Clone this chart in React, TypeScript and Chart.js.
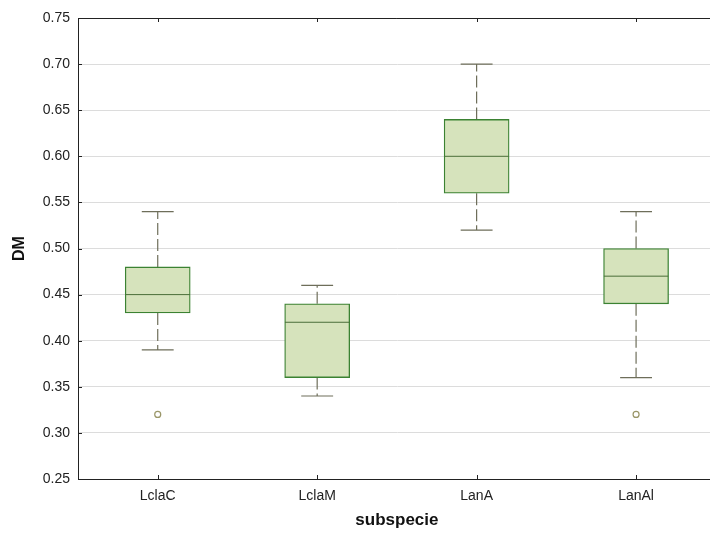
import React, { useEffect, useRef } from "react";
import { Chart, registerables } from "chart.js";

Chart.register(...registerables);

// ---- data ----
const categories = ["LclaC", "LclaM", "LanA", "LanAl"];
const whiskerMin = [0.39, 0.34, 0.52, 0.36];
const q1 = [0.43, 0.36, 0.56, 0.44];
const median = [0.45, 0.42, 0.6, 0.47];
const q3 = [0.48, 0.44, 0.64, 0.5];
const whiskerMax = [0.54, 0.46, 0.7, 0.54];
const outliers: number[][] = [[0.32], [], [], [0.32]];
const yTicks = [0.25, 0.3, 0.35, 0.4, 0.45, 0.5, 0.55, 0.6, 0.65, 0.7, 0.75];

// ---- layout / style constants ----
const BOX_HALF = 0.202; // in category units
const CAP_HALF = 0.1;
const X_MAX = 3.5;
const FONT = "'Liberation Sans', Arial, sans-serif";
const BOX_FILL = "rgb(214,227,188)";
const BOX_EDGE = "#3b8232";
const MEDIAN_COLOR = "#4a6e38";
const WHISKER_COLOR = "#6e6e5a";
const OUTLIER_COLOR = "#9a9668";

const framePlugin = {
  id: "frame",
  afterDraw(chart: any) {
    const { ctx, chartArea } = chart;
    const xs = chart.scales.x;
    const ys = chart.scales.y;
    ctx.save();
    ctx.strokeStyle = "#222";
    ctx.lineWidth = 1;
    ctx.beginPath();
    ctx.moveTo(chartArea.left, chartArea.top + 0.5);
    ctx.lineTo(chartArea.right, chartArea.top + 0.5);
    ctx.lineTo(chartArea.right, chartArea.bottom);
    yTicks.forEach((v) => {
      const py = Math.round(ys.getPixelForValue(v)) + 0.5;
      ctx.moveTo(chartArea.left, py);
      ctx.lineTo(chartArea.left + 4, py);
    });
    categories.forEach((_, i) => {
      const px = Math.round(xs.getPixelForValue(i)) + 0.5;
      ctx.moveTo(px, chartArea.top);
      ctx.lineTo(px, chartArea.top + 4);
      ctx.moveTo(px, chartArea.bottom);
      ctx.lineTo(px, chartArea.bottom - 4);
    });
    ctx.stroke();
    ctx.restore();
  },
};

export default function App() {
  const ref = useRef<HTMLCanvasElement>(null);

  useEffect(() => {
    if (!ref.current) return;

    const boxData = categories.map((_, i) => ({ x: i, y: [q1[i], q3[i]] }));
    const medianData: any[] = [];
    const whiskerData: any[] = [];
    const capData: any[] = [];
    const outlierData: any[] = [];
    categories.forEach((_, i) => {
      medianData.push({ x: i - BOX_HALF, y: median[i] }, { x: i + BOX_HALF, y: median[i] }, { x: i + 0.5, y: null });
      whiskerData.push(
        { x: i, y: q3[i] }, { x: i, y: whiskerMax[i] }, { x: i + 0.01, y: null },
        { x: i, y: q1[i] }, { x: i, y: whiskerMin[i] }, { x: i + 0.02, y: null }
      );
      capData.push(
        { x: i - CAP_HALF, y: whiskerMax[i] }, { x: i + CAP_HALF, y: whiskerMax[i] }, { x: i + 0.3, y: null },
        { x: i - CAP_HALF, y: whiskerMin[i] }, { x: i + CAP_HALF, y: whiskerMin[i] }, { x: i + 0.4, y: null }
      );
      outliers[i].forEach((v) => outlierData.push({ x: i, y: v }));
    });

    const chart = new Chart(ref.current, {
      type: "bar",
      data: {
        datasets: [
          {
            type: "line",
            data: medianData,
            borderColor: MEDIAN_COLOR,
            borderWidth: 1,
            pointRadius: 0,
            spanGaps: false,
            order: 0,
          } as any,
          {
            type: "bar",
            data: boxData as any,
            backgroundColor: BOX_FILL,
            borderColor: BOX_EDGE,
            borderWidth: 1.3,
            borderSkipped: false,
            barThickness: 65,
            order: 1,
          },
          {
            type: "line",
            data: whiskerData,
            borderColor: WHISKER_COLOR,
            borderWidth: 1.2,
            borderDash: [12, 4],
            pointRadius: 0,
            spanGaps: false,
            order: 2,
          } as any,
          {
            type: "line",
            data: capData,
            borderColor: WHISKER_COLOR,
            borderWidth: 1.2,
            pointRadius: 0,
            spanGaps: false,
            order: 2,
          } as any,
          {
            type: "line",
            data: outlierData,
            showLine: false,
            pointStyle: "circle",
            pointRadius: 3,
            pointBorderWidth: 1.2,
            pointBorderColor: OUTLIER_COLOR,
            pointBackgroundColor: "#ffffff",
            order: 0,
          } as any,
        ],
      },
      options: {
        animation: false,
        responsive: false,
        layout: { padding: { top: 18, left: 0, right: 0, bottom: 0 } },
        plugins: { legend: { display: false }, tooltip: { enabled: false } },
        scales: {
          x: {
            type: "linear",
            min: -0.5,
            max: X_MAX,
            offset: false,
            afterBuildTicks: (s: any) => {
              s.ticks = categories.map((_, i) => ({ value: i }));
            },
            afterFit: (s: any) => {
              s.height = 54;
              s.paddingRight = 0;
              s.paddingLeft = 0;
            },
            ticks: {
              callback: (v: any) => categories[v as number] ?? "",
              font: { family: FONT, size: 14 },
              color: "#222",
              padding: 9,
              autoSkip: false,
              maxRotation: 0,
            },
            grid: { display: false, drawTicks: false, offset: false },
            border: { color: "#222", width: 1 },
            title: {
              display: true,
              text: "subspecie",
              font: { family: FONT, size: 17, weight: "bold" },
              color: "#111",
              padding: { top: 0, bottom: 2 },
            },
          },
          y: {
            min: 0.25,
            max: 0.75,
            afterBuildTicks: (s: any) => {
              s.ticks = yTicks.map((v) => ({ value: v }));
            },
            afterFit: (s: any) => {
              s.width = 78;
            },
            ticks: {
              callback: (v: any) => Number(v).toFixed(2),
              font: { family: FONT, size: 14 },
              color: "#222",
              padding: 8,
            },
            grid: { color: "#dcdcdc", lineWidth: 1, drawTicks: false },
            border: { color: "#222", width: 1 },
            title: {
              display: true,
              text: "DM",
              font: { family: FONT, size: 16, weight: "bold" },
              color: "#111",
              padding: { top: 10, bottom: 0 },
            },
          },
        },
      },
      plugins: [framePlugin],
    });
    return () => chart.destroy();
  }, []);

  return (
    <div style={{ position: "absolute", left: 0, top: 0, width: 710, height: 533, overflow: "hidden", background: "#fff" }}>
      <canvas ref={ref} width={721} height={533} />
    </div>
  );
}
